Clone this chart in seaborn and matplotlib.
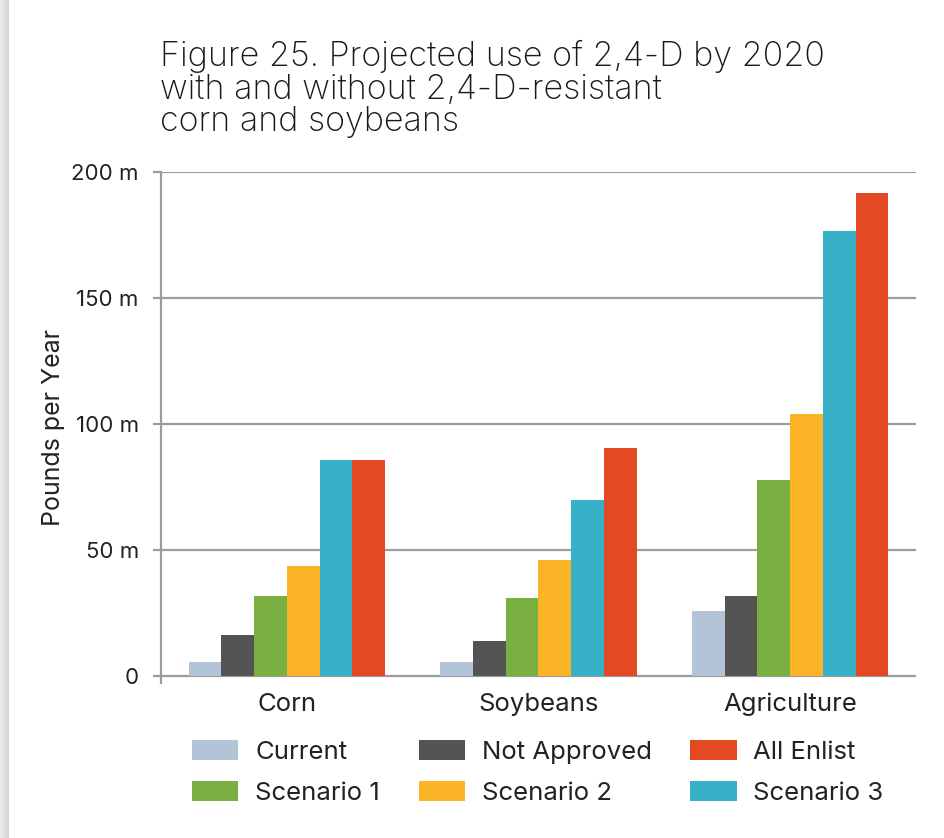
import numpy as np
import pandas as pd
import matplotlib
matplotlib.use("Agg")
import matplotlib.pyplot as plt
import seaborn as sns
from matplotlib.patches import Patch

categories = ["Corn", "Soybeans", "Agriculture"]
series = ["Current", "Not Approved", "Scenario 1", "Scenario 2", "Scenario 3", "All Enlist"]
current = [5.7, 5.7, 25.6]
not_approved = [16.2, 13.9, 31.8]
scenario_1 = [31.8, 30.8, 77.7]
scenario_2 = [43.5, 46.2, 104.0]
scenario_3 = [85.6, 70.0, 176.4]
all_enlist = [85.6, 90.4, 191.8]
colors = ["#b3c4d9", "#545454", "#7aaf42", "#fbb426", "#38b0c8", "#e34a24"]
yticks = [0, 50, 100, 150, 200]
ytick_labels = ["0", "50 m", "100 m", "150 m", "200 m"]

values = [current, not_approved, scenario_1, scenario_2, scenario_3, all_enlist]
rows = []
for s, vals in zip(series, values):
    for c, v in zip(categories, vals):
        rows.append({"category": c, "series": s, "value": v})
df = pd.DataFrame(rows)

sns.set_theme(style="white")
plt.rcParams["font.family"] = ["Inter", "DejaVu Sans"]

fig = plt.figure(figsize=(9.45, 8.38), dpi=100)
fig.patch.set_facecolor("white")

# left shadow strip
sh = fig.add_axes([0, 0, 9 / 945, 1])
grad = np.linspace(0.93, 0.83, 50).reshape(1, -1)
sh.imshow(grad, aspect="auto", cmap="gray", vmin=0, vmax=1, extent=[0, 1, 0, 1])
sh.axis("off")

ax = fig.add_axes([161 / 945, 1 - 683 / 838, 755 / 945, 511 / 838])
sns.barplot(data=df, x="category", y="value", hue="series", order=categories,
            hue_order=series, palette=colors, width=0.78, gap=0, saturation=1,
            edgecolor="none", linewidth=0, ax=ax, legend=False)

ax.set_xlim(-0.5, 2.5)
ax.set_ylim(-2.8, 200)
ax.set_yticks(yticks)
ax.set_yticklabels(ytick_labels)
ax.yaxis.grid(True, color="#9c9c9c", linewidth=1.6)
ax.set_axisbelow(True)
for side in ["top", "right", "bottom"]:
    ax.spines[side].set_visible(False)
ax.spines["left"].set_color("#9c9c9c")
ax.spines["left"].set_linewidth(1.6)
ax.tick_params(axis="y", which="both", left=True, length=6, width=1.6, color="#9c9c9c",
               labelsize=16, labelcolor="#222222", pad=10)
ax.tick_params(axis="x", bottom=False, labelsize=18.5, labelcolor="#222222", pad=1)
ax.set_xlabel("")
ax.set_ylabel("Pounds per Year", fontsize=18, color="#222222")
ax.yaxis.set_label_coords(-0.127, 0.5)

fig.text(160 / 945, 1 - 40 / 838,
         "Figure 25. Projected use of 2,4-D by 2020\nwith and without 2,4-D-resistant\ncorn and soybeans",
         fontsize=24.5, color="#1a1a1a", va="top", ha="left", linespacing=1.02,
         fontweight="light")

order = ["Current", "Scenario 1", "Not Approved", "Scenario 2", "All Enlist", "Scenario 3"]
cmap = dict(zip(series, colors))
handles = [Patch(facecolor=cmap[s], edgecolor="none", label=s) for s in order]
fig.legend(handles=handles, loc="upper left", bbox_to_anchor=(192 / 945, 1 - 740 / 838),
           ncol=3, frameon=False, fontsize=18.5, handlelength=1.8, handleheight=0.82,
           handletextpad=0.66, columnspacing=1.5, labelspacing=0.65, borderpad=0,
           borderaxespad=0, labelcolor="#222222")

fig.savefig("out.png", dpi=100, facecolor="white")
